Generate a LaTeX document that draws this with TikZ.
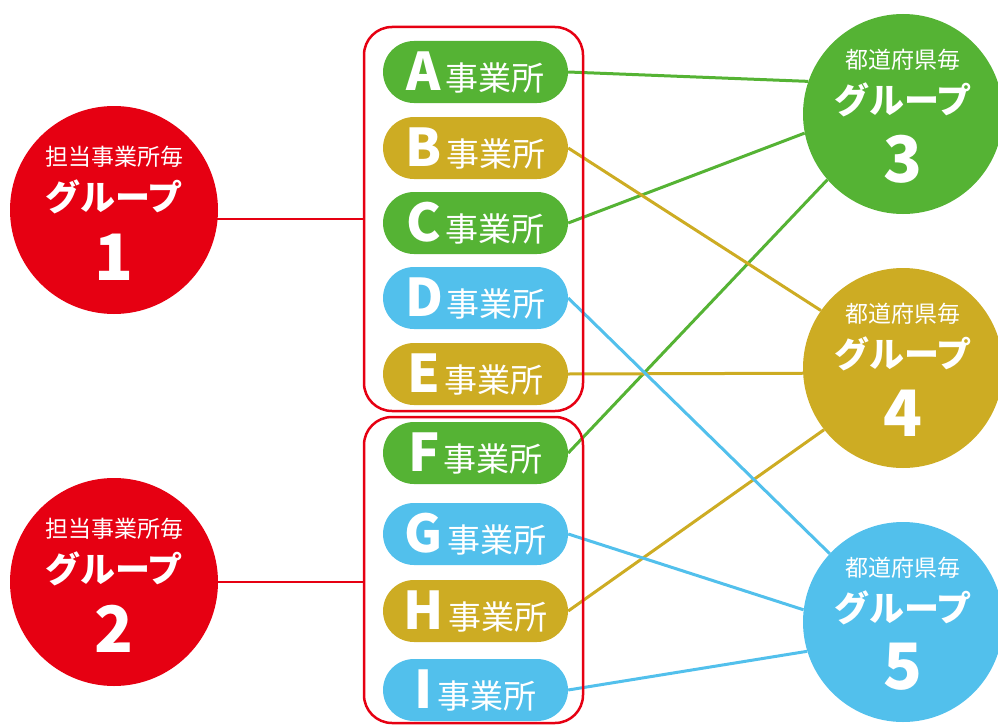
\documentclass[tikz,border=0pt]{standalone}
\usepackage{fontspec}
\setmainfont{Noto Sans CJK JP}
\usetikzlibrary{backgrounds}

\definecolor{grpred}{RGB}{230,0,18}
\definecolor{grpgreen}{RGB}{85,179,52}
\definecolor{grpolive}{RGB}{205,172,35}
\definecolor{grpblue}{RGB}{82,192,236}

\begin{document}
\begin{tikzpicture}[x=1pt,y=-1pt,
    office/.style={rectangle,rounded corners=31pt,minimum width=185pt,minimum height=62pt,inner sep=0pt,text=white},
    grpcircle/.style={circle,minimum size=200pt,inner sep=0pt},
    grpbox/.style={draw=grpred,line width=2.5pt,rounded corners=28pt,minimum width=219pt,inner sep=0pt},
    link/.style={line width=3pt},
    subtxt/.style={text=white,inner sep=0pt,font=\fontsize{23}{23}\selectfont},
    grptxt/.style={text=white,inner sep=0pt,font=\fontsize{35}{35}\selectfont\bfseries},
    numtxt/.style={text=white,inner sep=0pt,font=\fontsize{64}{64}\selectfont\bfseries}]
    \useasboundingbox (0,0) rectangle (998,725);

    %%%% Offices %%%%%%%%%%%%%%%%%%%%%%%%%%%%%%%%%%%%%%%%%%%%%%%%%%%%%%%%%%
    \foreach \nm/\y/\col in {A/72/grpgreen,B/148/grpolive,C/223/grpgreen,
                             D/298/grpblue,E/374/grpolive,F/453/grpgreen,
                             G/534/grpblue,H/611/grpolive,I/690/grpblue}
      \node[office,fill=\col] (\nm) at (475.5,\y)
        {{\fontsize{52}{52}\selectfont\bfseries \nm}\hspace{4pt}{\fontsize{33}{33}\selectfont 事業所}};

    \node[grpbox,minimum height=384pt] (box1) at (473.5,219) {};
    \node[grpbox,minimum height=306pt] (box2) at (473.5,570) {};

    %%%% Groups by office %%%%%%%%%%%%%%%%%%%%%%%%%%%%%%%%%%%%%%%%%%%%%%%%%
    \node[grpcircle,fill=grpred,minimum size=208pt] (g1) at (114,210) {};
    \node[subtxt] (g1sub) at ([yshift=53pt]g1.center) {担当事業所毎};
    \node[grptxt] (g1name) at ([yshift=13pt]g1.center) {グループ};
    \node[numtxt] (g1num) at ([yshift=-47pt]g1.center) {1};

    \node[grpcircle,fill=grpred,minimum size=208pt] (g2) at (114,582) {};
    \node[subtxt] (g2sub) at ([yshift=53pt]g2.center) {担当事業所毎};
    \node[grptxt] (g2name) at ([yshift=13pt]g2.center) {グループ};
    \node[numtxt] (g2num) at ([yshift=-47pt]g2.center) {2};

    %%%% Groups by prefecture %%%%%%%%%%%%%%%%%%%%%%%%%%%%%%%%%%%%%%%%%%%%%
    \node[grpcircle,fill=grpgreen] (g3) at (903,114) {};
    \node[subtxt] (g3sub) at ([yshift=54pt]g3.center) {都道府県毎};
    \node[grptxt] (g3name) at ([yshift=14pt]g3.center) {グループ};
    \node[numtxt] (g3num) at ([yshift=-45pt]g3.center) {3};

    \node[grpcircle,fill=grpolive] (g4) at (903,368) {};
    \node[subtxt] (g4sub) at ([yshift=54pt]g4.center) {都道府県毎};
    \node[grptxt] (g4name) at ([yshift=14pt]g4.center) {グループ};
    \node[numtxt] (g4num) at ([yshift=-45pt]g4.center) {4};

    \node[grpcircle,fill=grpblue] (g5) at (903,622) {};
    \node[subtxt] (g5sub) at ([yshift=54pt]g5.center) {都道府県毎};
    \node[grptxt] (g5name) at ([yshift=14pt]g5.center) {グループ};
    \node[numtxt] (g5num) at ([yshift=-45pt]g5.center) {5};

    %%%% Links %%%%%%%%%%%%%%%%%%%%%%%%%%%%%%%%%%%%%%%%%%%%%%%%%%%%%%%%%%%%
    \begin{scope}[on background layer]
      \draw[grpred,line width=2.5pt] (box1.west) -- (box1.west -| g1.center);
      \draw[grpred,line width=2.5pt] (g2.center) -- (g2.center -| box2.west);

      \draw[link,grpgreen] (A.east) -- (g3.161);
      \draw[link,grpgreen] (C.east) -- (g3.191);
      \draw[link,grpgreen] (F.east) -- (g3.221);

      \draw[link,grpolive] (B.east) -- (g4.145);
      \draw[link,grpolive] (E.east) -- (g4.183);
      \draw[link,grpolive] (H.east) -- (g4.218);

      \draw[link,grpblue] (D.east) -- (g5.137);
      \draw[link,grpblue] (G.east) -- (g5.173);
      \draw[link,grpblue] (I.east) -- (g5.197);
    \end{scope}
\end{tikzpicture}
\end{document}
